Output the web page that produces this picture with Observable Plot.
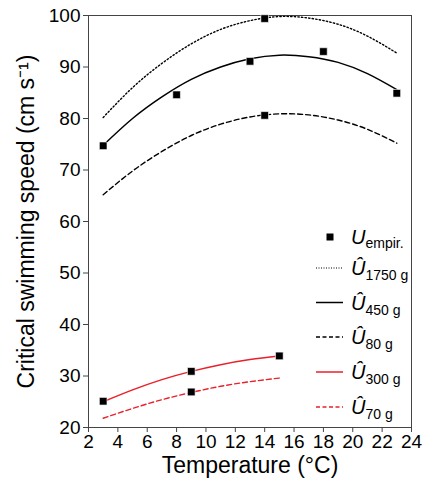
<!DOCTYPE html>
<html>
<head>
<meta charset="utf-8">
<script src="https://cdn.jsdelivr.net/npm/d3@7"></script>
<script src="https://cdn.jsdelivr.net/npm/@observablehq/plot@0.6"></script>
<style>
  html, body { margin: 0; padding: 0; background: #fff; }
  #chart { width: 428px; height: 487px; }
</style>
</head>
<body>
<div id="chart"></div>
<script>
// ---- data ----
const fitTemps = [3, 5, 7, 9, 11, 13, 15, 17, 19, 21, 23];
const u1750 = [80.2, 86.0, 90.7, 94.5, 97.3, 99.0, 99.8, 99.5, 98.3, 96.0, 92.7];
const u450  = [74.8, 80.0, 84.2, 87.6, 90.0, 91.6, 92.3, 92.0, 90.9, 88.7, 85.6];
const u80   = [65.2, 69.8, 73.6, 76.7, 78.9, 80.3, 80.9, 80.7, 79.7, 77.9, 75.2];
const fitTempsSmall = [3, 5, 7, 9, 11, 13, 15];
const u300  = [25.0, 27.3, 29.3, 30.9, 32.2, 33.2, 33.9];
const u70   = [21.8, 23.7, 25.4, 26.8, 28.0, 28.9, 29.6];
const empTemps = [3, 8, 13, 14, 18, 23, 14, 3, 9, 9, 15];
const empU     = [74.7, 84.6, 91.1, 99.4, 93.0, 84.9, 80.6, 25.1, 30.9, 26.9, 33.9];
const xTicks = [2, 4, 6, 8, 10, 12, 14, 16, 18, 20, 22, 24];
const yTicks = [20, 30, 40, 50, 60, 70, 80, 90, 100];
const seriesNames = ["1750 g", "450 g", "80 g", "300 g", "70 g"];
const xLabel = "Temperature (°C)";
const yLabel = "Critical swimming speed (cm s⁻¹)";

const toRows = (xs, ys) => xs.map((x, i) => ({x, y: ys[i]}));
const r1750 = toRows(fitTemps, u1750);
const r450 = toRows(fitTemps, u450);
const r80 = toRows(fitTemps, u80);
const r300 = toRows(fitTempsSmall, u300);
const r70 = toRows(fitTempsSmall, u70);
const emp = toRows(empTemps, empU);

const styles = [
  {stroke: "#000", dash: "1.4,2.2", width: 1.4},
  {stroke: "#000", dash: null, width: 1.5},
  {stroke: "#000", dash: "5,3", width: 1.4},
  {stroke: "#e8212b", dash: null, width: 1.5},
  {stroke: "#e8212b", dash: "5,3", width: 1.4}
];
const rows = [r1750, r450, r80, r300, r70];

const FONT = "'Liberation Sans', Arial, Helvetica, sans-serif";

const plot = Plot.plot({
  width: 428,
  height: 487,
  marginLeft: 88,
  marginRight: 17,
  marginTop: 15,
  marginBottom: 60,
  style: {fontFamily: FONT, fontSize: "19px", color: "#000", background: "#fff"},
  x: {domain: [2, 24]},
  y: {domain: [20, 100]},
  marks: [
    Plot.frame({stroke: "#444", strokeWidth: 1}),
    Plot.axisX({ticks: xTicks, tickSize: 5, tickPadding: 2, label: null, fontSize: 19, stroke: "#444"}),
    Plot.axisY({ticks: yTicks, tickSize: 5, tickPadding: 3, label: null, fontSize: 19, stroke: "#444"}),
    ...rows.map((r, i) => Plot.line(r, {
      x: "x", y: "y", curve: "natural",
      stroke: styles[i].stroke, strokeWidth: styles[i].width,
      strokeDasharray: styles[i].dash
    })),
    Plot.dot(emp, {x: "x", y: "y", symbol: "square", r: 4.3, fill: "#000", stroke: "#fff", strokeWidth: 0.6}),
    Plot.text([xLabel], {frameAnchor: "bottom", dy: 45, fontSize: 23, textAnchor: "middle", text: d => d}),
    Plot.text([yLabel], {frameAnchor: "left", dx: -62, rotate: -90, fontSize: 23, textAnchor: "middle", text: d => d})
  ]
});

document.getElementById("chart").appendChild(plot);

// ---- legend (inside the frame, bottom-right) ----
const svg = d3.select(plot);
const lg = svg.append("g").attr("font-family", FONT).attr("text-anchor", "start");
const lineX0 = 316, lineX1 = 343, textX = 351;
// empirical marker
lg.append("rect").attr("x", 326.5).attr("y", 233.5).attr("width", 7).attr("height", 7).attr("fill", "#000");
const t0 = lg.append("text").attr("x", textX).attr("y", 244).attr("font-size", 20);
t0.append("tspan").attr("font-style", "italic").text("U");
t0.append("tspan").attr("font-size", 14).attr("dy", 4).text("empir.");
const legY = [268, 302.5, 337, 372, 407];
seriesNames.forEach((name, i) => {
  const y = legY[i];
  lg.append("line").attr("x1", lineX0).attr("x2", lineX1).attr("y1", y).attr("y2", y)
    .attr("stroke", styles[i].stroke).attr("stroke-width", i === 0 ? 1.1 : styles[i].width)
    .attr("stroke-dasharray", i === 0 ? "1,1.5" : (styles[i].dash ? "4,2.5" : null));
  const t = lg.append("text").attr("x", textX).attr("y", y + 7).attr("font-size", 20);
  t.append("tspan").attr("font-style", "italic").text("Û");
  t.append("tspan").attr("font-size", 14).attr("dy", 5).text(name);
});
</script>
</body>
</html>
